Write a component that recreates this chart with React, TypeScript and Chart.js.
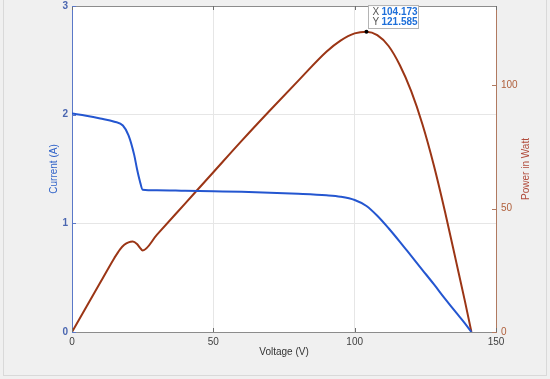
import React, { useEffect, useRef } from "react";
import { Chart, registerables } from "chart.js";

Chart.register(...registerables);

const voltage = [0, 5, 10, 15, 18, 20, 22, 23, 24, 25, 30, 40, 50, 60, 70, 80, 90, 95, 100, 104.173, 108, 112, 116, 120, 124, 128, 132, 136, 139, 141.3];
const current = [2.01, 1.99, 1.965, 1.935, 1.9, 1.81, 1.63, 1.5, 1.39, 1.31, 1.305, 1.3, 1.295, 1.29, 1.282, 1.272, 1.258, 1.245, 1.215, 1.16, 1.07, 0.955, 0.83, 0.7, 0.57, 0.44, 0.305, 0.175, 0.08, 0];
const powerV = [0, 5, 10, 15, 17, 18.5, 20, 21.5, 23, 24, 25, 30, 40, 50, 60, 70, 80, 90, 95, 100, 104.173, 108, 112, 116, 120, 124, 128, 132, 136, 139, 141.3];
const power = [0, 10, 20, 30, 33.5, 35.3, 36.3, 36.6, 35.6, 34.2, 33, 39.3, 52, 64.7, 77.4, 89.7, 101.7, 113.5, 118, 120.9, 121.585, 120.2, 115.8, 108, 97.5, 84, 67.5, 48.5, 28, 12.5, 0];
const xTicks = [0, 50, 100, 150];
const currentTicks = [0, 1, 2, 3];
const powerTicks = [0, 50, 100];
const tipX = 104.173;
const tipY = 121.585;

const BLUE = "#2456d0";
const RED = "#9b3515";
const FONT = "'Liberation Sans', Arial, sans-serif";

const decor = {
  id: "decor",
  beforeDraw(chart: any) {
    const { ctx, chartArea: a } = chart;
    ctx.save();
    ctx.fillStyle = "#f0f0f0";
    ctx.fillRect(0, 0, chart.width, chart.height);
    ctx.fillStyle = "#ffffff";
    ctx.fillRect(a.left, a.top, a.right - a.left, a.bottom - a.top);
    ctx.strokeStyle = "#d9d9d9";
    ctx.lineWidth = 1;
    ctx.strokeRect(3.5, -2, 543, 377.5);
    ctx.restore();
  },
  afterDraw(chart: any) {
    const { ctx, chartArea: a, scales } = chart;
    const x = scales.x, yl = scales.y, yr = scales.y1;
    ctx.save();
    ctx.lineWidth = 1;
    ctx.strokeStyle = "#8c8c8c";
    ctx.beginPath();
    ctx.moveTo(a.left, a.top + 0.5);
    ctx.lineTo(a.right, a.top + 0.5);
    ctx.stroke();
    const tl = 4;
    ctx.strokeStyle = "#6e6e6e";
    xTicks.forEach((v) => {
      const px = Math.round(x.getPixelForValue(v)) + 0.5;
      ctx.beginPath();
      ctx.moveTo(px, a.bottom);
      ctx.lineTo(px, a.bottom - tl);
      ctx.moveTo(px, a.top);
      ctx.lineTo(px, a.top + tl);
      ctx.stroke();
    });
    ctx.strokeStyle = "#5a78c8";
    currentTicks.forEach((v) => {
      const py = Math.round(yl.getPixelForValue(v)) + 0.5;
      ctx.beginPath();
      ctx.moveTo(a.left, py);
      ctx.lineTo(a.left + tl, py);
      ctx.stroke();
    });
    ctx.strokeStyle = "#b07a60";
    powerTicks.forEach((v) => {
      const py = Math.round(yr.getPixelForValue(v)) + 0.5;
      ctx.beginPath();
      ctx.moveTo(a.right, py);
      ctx.lineTo(a.right - tl, py);
      ctx.stroke();
    });
    ctx.translate(526, (a.top + a.bottom) / 2);
    ctx.rotate(-Math.PI / 2);
    ctx.fillStyle = "#b04a3a";
    ctx.font = `10px ${FONT}`;
    ctx.textAlign = "center";
    ctx.textBaseline = "middle";
    ctx.fillText("Power in Watt", 0, 0);
    ctx.restore();

    const px = x.getPixelForValue(tipX);
    const py = yr.getPixelForValue(tipY);
    ctx.save();
    ctx.fillStyle = "#000";
    ctx.beginPath();
    ctx.arc(px, py, 2, 0, Math.PI * 2);
    ctx.fill();
    const bx = Math.round(px + 2) + 0.5;
    const by = Math.round(py - 27) + 0.5;
    const bw = 50, bh = 23;
    ctx.fillStyle = "rgba(255,255,255,0.95)";
    ctx.fillRect(bx, by, bw, bh);
    ctx.strokeStyle = "#b4b4b4";
    ctx.strokeRect(bx, by, bw, bh);
    ctx.textBaseline = "middle";
    ctx.textAlign = "left";
    ctx.font = `10px ${FONT}`;
    ctx.fillStyle = "#555";
    ctx.fillText("X", bx + 4, by + 7);
    ctx.fillText("Y", bx + 4, by + 17);
    ctx.font = `bold 10px ${FONT}`;
    ctx.fillStyle = "#1e6fd9";
    ctx.fillText(tipX.toFixed(3), bx + 13, by + 7);
    ctx.fillText(tipY.toFixed(3), bx + 13, by + 17);
    ctx.restore();
  },
};

export default function App() {
  const ref = useRef<HTMLCanvasElement>(null);
  useEffect(() => {
    const chart = new Chart(ref.current!, {
      type: "line",
      data: {
        datasets: [
          {
            label: "Current",
            data: voltage.map((v, i) => ({ x: v, y: current[i] })),
            borderColor: BLUE,
            borderWidth: 2,
            pointRadius: 0,
            cubicInterpolationMode: "monotone",
            yAxisID: "y",
          },
          {
            label: "Power",
            data: powerV.map((v, i) => ({ x: v, y: power[i] })),
            borderColor: RED,
            borderWidth: 2,
            pointRadius: 0,
            cubicInterpolationMode: "monotone",
            yAxisID: "y1",
          },
        ],
      },
      options: {
        animation: false,
        responsive: false,
        maintainAspectRatio: false,
        layout: { padding: { top: 0, left: 0, right: 0, bottom: 0 } },
        plugins: { legend: { display: false }, tooltip: { enabled: false } },
        scales: {
          x: {
            type: "linear",
            min: 0,
            max: 150,
            afterBuildTicks: (s: any) => { s.ticks = xTicks.map((v) => ({ value: v })); },
            afterFit: (s: any) => { s.height = 47; },
            ticks: { color: "#404040", font: { size: 10, family: FONT }, padding: 4, maxRotation: 0 },
            grid: { color: "#e6e6e6", drawTicks: false },
            border: { color: "#8c8c8c" },
            title: { display: true, text: "Voltage (V)", color: "#333", font: { size: 10, family: FONT }, padding: { top: 0, bottom: 21 } },
          },
          y: {
            type: "linear",
            position: "left",
            min: 0,
            max: 3,
            afterBuildTicks: (s: any) => { s.ticks = currentTicks.map((v) => ({ value: v })); },
            afterFit: (s: any) => { s.width = 72; s.paddingTop = 6; s.paddingBottom = 0; },
            ticks: { color: "#4a66b0", font: { size: 10, family: FONT, weight: "bold" }, padding: 4 },
            grid: { color: "#e6e6e6", drawTicks: false },
            border: { color: "#5a78c8" },
            title: { display: true, text: "Current (A)", color: "#2f62c8", font: { size: 10, family: FONT }, padding: { top: 48, bottom: 0 } },
          },
          y1: {
            type: "linear",
            position: "right",
            min: 0,
            max: 132,
            afterBuildTicks: (s: any) => { s.ticks = powerTicks.map((v) => ({ value: v })); },
            afterFit: (s: any) => { s.width = 54; s.paddingTop = 6; s.paddingBottom = 0; },
            ticks: { color: "#b0603c", font: { size: 10, family: FONT }, padding: 5 },
            grid: { display: false, drawTicks: false },
            border: { color: "#b07a60" },
          },
        },
      },
      plugins: [decor],
    } as any);
    return () => chart.destroy();
  }, []);
  return (
    <div style={{ position: "absolute", left: 0, top: 0, width: 550, height: 379 }}>
      <canvas ref={ref} width={550} height={379} style={{ display: "block", width: 550, height: 379 }} />
    </div>
  );
}
